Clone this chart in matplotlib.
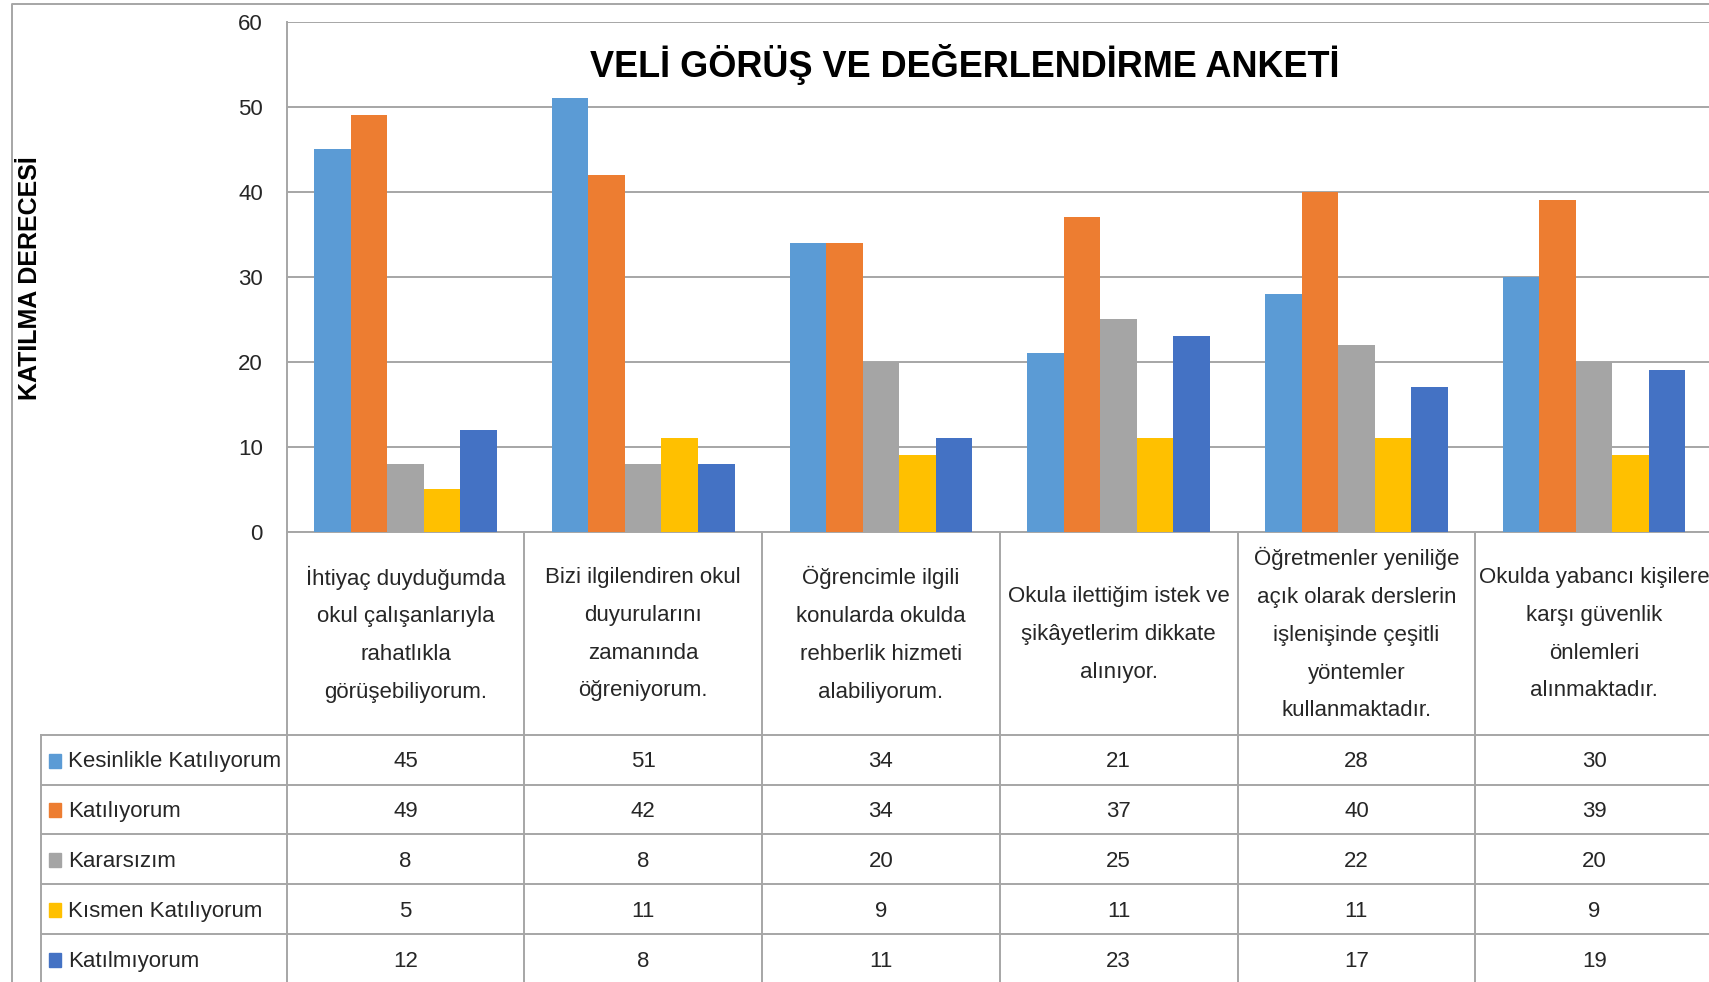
import matplotlib
matplotlib.use("Agg")
import matplotlib.pyplot as plt
import matplotlib.transforms as mtransforms
import numpy as np

plt.rcParams['font.family'] = ['Liberation Sans Narrow', 'Liberation Sans', 'DejaVu Sans']

questions = [
    "İhtiyaç duyduğumda\nokul çalışanlarıyla\nrahatlıkla\ngörüşebiliyorum.",
    "Bizi ilgilendiren okul\nduyurularını\nzamanında\nöğreniyorum.",
    "Öğrencimle ilgili\nkonularda okulda\nrehberlik hizmeti\nalabiliyorum.",
    "Okula ilettiğim istek ve\nşikâyetlerim dikkate\nalınıyor.",
    "Öğretmenler yeniliğe\naçık olarak derslerin\nişlenişinde çeşitli\nyöntemler\nkullanmaktadır.",
    "Okulda yabancı kişilere\nkarşı güvenlik\nönlemleri\nalınmaktadır.",
]
series_names = ["Kesinlikle Katılıyorum", "Katılıyorum", "Kararsızım",
                "Kısmen Katılıyorum", "Katılmıyorum"]
kesinlikle = [45, 51, 34, 21, 28, 30]
katiliyorum = [49, 42, 34, 37, 40, 39]
kararsizim = [8, 8, 20, 25, 22, 20]
kismen = [5, 11, 9, 11, 11, 9]
katilmiyorum = [12, 8, 11, 23, 17, 19]
series = [kesinlikle, katiliyorum, kararsizim, kismen, katilmiyorum]
colors = ["#5B9BD5", "#ED7D31", "#A5A5A5", "#FFC000", "#4472C4"]
title = "VELİ GÖRÜŞ VE DEĞERLENDİRME ANKETİ"
ylabel = "KATILMA DERECESİ"

W, H = 1709, 982
fig = plt.figure(figsize=(W / 100, H / 100), dpi=100)

# bar plot area (pixel box converted to figure fraction)
left, right, top, bottom = 286.6, 1713, 21.8, 531.9
ax = fig.add_axes([left / W, 1 - bottom / H, (right - left) / W, (bottom - top) / H])

x = np.arange(len(questions))
bw = 0.1537
for k, (vals, c) in enumerate(zip(series, colors)):
    ax.bar(x + (k - 2) * bw, vals, bw, color=c, zorder=3)

ax.set_xlim(-0.5, len(questions) - 0.5)
ax.set_ylim(0, 60)
ax.set_yticks(range(0, 61, 10))
ax.set_xticks([])
ax.yaxis.grid(True, color="#a6a6a6", linewidth=1.4, zorder=0)
ax.tick_params(axis='y', length=0, pad=17, labelsize=16, labelcolor="#262626")
for s in ['top', 'right']:
    ax.spines[s].set_visible(False)
for s in ['left', 'bottom']:
    ax.spines[s].set_color("#a6a6a6")
    ax.spines[s].set_linewidth(1.4)

# overlay in pixel coordinates for the table and frame
ov = fig.add_axes([0, 0, 1, 1], zorder=5)
ov.set_xlim(0, W)
ov.set_ylim(H, 0)
ov.axis('off')
ov.patch.set_alpha(0)
bt = mtransforms.blended_transform_factory(ax.transData, ov.transData)

# outer chart border
ov.plot([12, 12, W + 5], [H + 5, 4, 4], color="#a6a6a6", lw=1.4)

line_c = "#a6a6a6"
table_left = 41.4
row_top = 734.6
row_h = 49.9
n_rows = len(series)

# vertical category boundaries
for b in np.arange(len(questions) + 1) - 0.5:
    ov.plot([b, b], [bottom, H + 5], color=line_c, lw=1.4, transform=bt)
ov.plot([table_left, table_left], [row_top, H + 5], color=line_c, lw=1.4)
# horizontal row lines
for r in range(n_rows + 1):
    yy = row_top + r * row_h
    ov.plot([table_left, W + 5], [yy, yy], color=line_c, lw=1.4)

# category labels
for i, q in enumerate(questions):
    ov.text(i, (bottom + row_top) / 2 + 1, q, transform=bt, ha='center', va='center',
            fontsize=16, linespacing=2.05, color="#262626")

# rows: legend key, name, values
for r, (name, vals, c) in enumerate(zip(series_names, series, colors)):
    yc = row_top + (r + 0.5) * row_h + 2
    ov.add_patch(plt.Rectangle((49, yc - 8), 12, 14, color=c))
    ov.text(68, yc, name, ha='left', va='center', fontsize=16, color="#262626")
    for i, v in enumerate(vals):
        ov.text(i, yc, str(v), transform=bt, ha='center', va='center',
                fontsize=16, color="#262626")

ov.text(964.6, 64, title, ha='center', va='center', fontsize=26,
        fontweight='bold', color="black")
ov.text(30.5, 278, ylabel, ha='center', va='center', rotation=90, fontsize=18,
        fontweight='bold', family=['Liberation Sans', 'DejaVu Sans'], color="black")

fig.savefig("out.png", dpi=100)
